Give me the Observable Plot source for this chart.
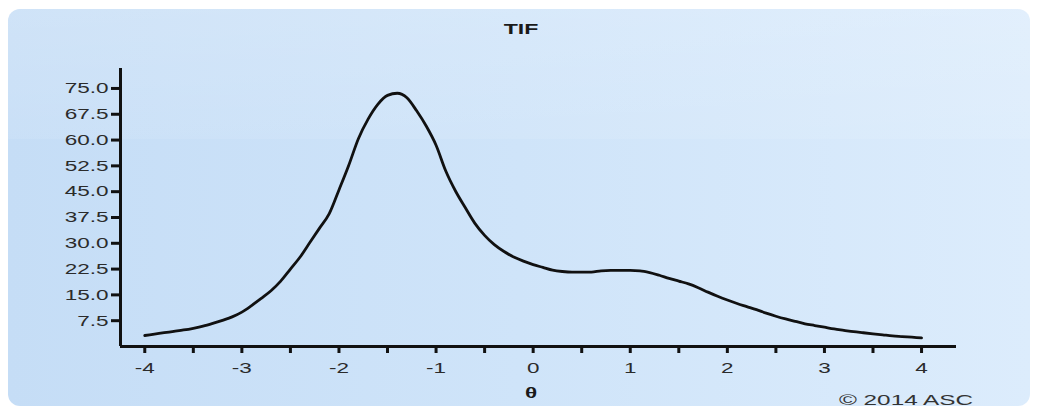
<!DOCTYPE html>
<html>
<head>
<meta charset="utf-8">
<script src="https://cdn.jsdelivr.net/npm/d3@7"></script>
<script src="https://cdn.jsdelivr.net/npm/@observablehq/plot@0.6"></script>
<style>
  html, body { margin: 0; padding: 0; background: #ffffff; }
  #wrap { position: relative; width: 1038px; height: 410px; overflow: hidden; font-family: "Liberation Sans", Arial, sans-serif; }
  #bg { position: absolute; left: 8px; top: 9px; width: 1022px; height: 397px; border-radius: 12px;
        background: linear-gradient(to right, #c5ddf6 0%, #cfe4f9 50%, #dcecfc 100%); }
  #bg2 { position: absolute; left: 8px; top: 9px; width: 1022px; height: 130px; border-radius: 12px 12px 0 0;
        background: linear-gradient(to bottom, rgba(255,255,255,0.18), rgba(255,255,255,0.08)); }
  #chart { position: absolute; left: 0; top: 0; }
  .lbl { position: absolute; color: #1a1a1a; white-space: nowrap; transform-origin: center center; }
</style>
</head>
<body>
<div id="wrap">
  <div id="bg"></div>
  <div id="bg2"></div>
  <div id="chart"></div>
  <div class="lbl" id="title" style="left:505px; top:21px; width:32px; text-align:center; font-weight:bold; font-size:14px; transform:scaleX(1.65);">TIF</div>
  <div class="lbl" id="xlab" style="left:523px; top:384px; width:16px; text-align:center; font-weight:bold; font-size:15px; transform:scaleX(1.5);">θ</div>
  <div class="lbl" id="copy" style="left:864px; top:391px; width:84px; text-align:center; font-size:15px; color:#333; transform:scaleX(1.62);">© 2014 ASC</div>
</div>
<script>
// Test information function values
const theta = [
  -4.0,-3.9,-3.8,-3.7,-3.6,-3.5,-3.4,-3.3,-3.2,-3.1,
  -3.0,-2.9,-2.8,-2.7,-2.6,-2.5,-2.4,-2.3,-2.2,-2.1,
  -2.0,-1.9,-1.8,-1.7,-1.6,-1.5,-1.4,-1.3,-1.2,-1.1,
  -1.0,-0.9,-0.8,-0.7,-0.6,-0.5,-0.4,-0.3,-0.2,-0.1,
   0.0, 0.1, 0.2, 0.3, 0.4, 0.5, 0.6, 0.7, 0.8, 0.9,
   1.0, 1.1, 1.2, 1.3, 1.4, 1.5, 1.6, 1.7, 1.8, 1.9,
   2.0, 2.1, 2.2, 2.3, 2.4, 2.5, 2.6, 2.7, 2.8, 2.9,
   3.0, 3.1, 3.2, 3.3, 3.4, 3.5, 3.6, 3.7, 3.8, 3.9, 4.0
];
const tif = [
   3.2, 3.6, 4.0, 4.4, 4.8, 5.3, 5.9, 6.7, 7.6, 8.6,
  10.0,11.9,14.0,16.2,19.0,22.5,26.0,30.2,34.4,38.6,
  45.5,52.6,60.4,66.1,70.4,73.0,73.6,72.3,68.5,64.0,
  58.5,51.0,45.2,40.4,35.8,32.3,29.6,27.6,26.0,24.8,
  23.8,23.0,22.2,21.8,21.6,21.6,21.6,22.0,22.1,22.1,
  22.1,22.0,21.5,20.7,19.8,19.0,18.2,17.1,15.8,14.6,
  13.5,12.5,11.6,10.7, 9.7, 8.8, 8.0, 7.3, 6.6, 6.1,
   5.6, 5.1, 4.7, 4.3, 4.0, 3.7, 3.4, 3.1, 2.9, 2.7, 2.5
];
const yTicks = [7.5, 15, 22.5, 30, 37.5, 45, 52.5, 60, 67.5, 75];
const xTicks = [-4,-3.5,-3,-2.5,-2,-1.5,-1,-0.5,0,0.5,1,1.5,2,2.5,3,3.5,4];
const xDomain = [-4.25, 4.36];
const yDomain = [0, 80.8];

const data = theta.map((t, i) => ({theta: t, tif: tif[i]}));

const plot = Plot.plot({
  width: 1038,
  height: 410,
  marginLeft: 120,
  marginRight: 82,
  marginTop: 68,
  marginBottom: 64,
  style: {background: "transparent", fontFamily: "'Liberation Sans', Arial, sans-serif", fontSize: "15px", color: "#2b2b2b", overflow: "visible"},
  x: {domain: xDomain},
  y: {domain: yDomain},
  marks: [
    Plot.axisY({ticks: yTicks, tickFormat: d => d.toFixed(1), tickSize: 9, tickPadding: 3, strokeWidth: 3, stroke: "#111", fill: "#2b2b2b", label: null}),
    Plot.axisX({ticks: xTicks, tickFormat: d => Number.isInteger(d) ? `${d}` : "", tickSize: 7, tickPadding: 9, strokeWidth: 3, stroke: "#111", fill: "#2b2b2b", label: null}),
    Plot.ruleX([xDomain[0]], {y1: 0, y2: yDomain[1], stroke: "#111", strokeWidth: 3}),
    Plot.ruleY([0], {x1: xDomain[0], x2: xDomain[1], stroke: "#111", strokeWidth: 3}),
    Plot.line(data, {x: "theta", y: "tif", stroke: "#111", strokeWidth: 2.8, curve: "monotone-x"})
  ]
});
document.getElementById("chart").appendChild(plot);

// widen tick label glyphs like the reference's stretched lettering
plot.querySelectorAll("text").forEach(t => {
  const w = t.getComputedTextLength();
  if (w > 0) {
    t.setAttribute("textLength", (w * 1.5).toFixed(1));
    t.setAttribute("lengthAdjust", "spacingAndGlyphs");
  }
});
</script>
</body>
</html>
